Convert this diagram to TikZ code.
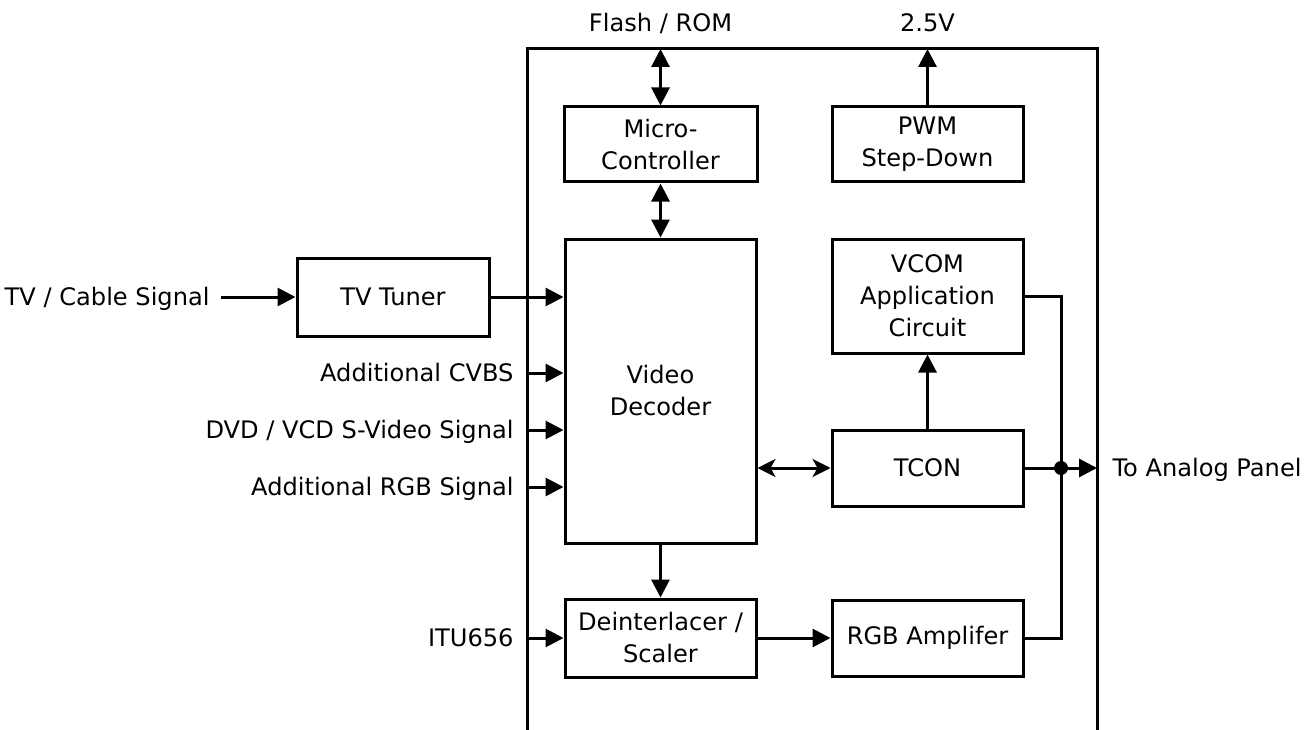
\documentclass[tikz,border=0pt]{standalone}
\usepackage{fontspec}
\setmainfont{DejaVu Sans}
\usetikzlibrary{arrows.meta}
\begin{document}
\begin{tikzpicture}[x=1pt,y=-1pt,
  line width=3pt,
  every node/.style={font=\fontsize{24.1}{32}\selectfont, inner sep=0pt},
  blk/.style={draw, line width=3pt, minimum width=191pt, align=center},
  lbl/.style={anchor=base east},
  tipa/.style={-{Triangle[length=18pt,width=18pt]}},
  tipb/.style={{Triangle[length=18pt,width=18pt]}-{Triangle[length=18pt,width=18pt]}},
  tipc/.style={{Stealth[length=18pt,width=18pt,inset=5pt]}-{Stealth[length=18pt,width=18pt,inset=5pt]}}
]
\useasboundingbox (0,0) rectangle (1316,730);

% outer open frame
\draw (527,730) -- (527,49) -- (1097,49) -- (1097,730);

% blocks
\node[blk, minimum width=193pt, minimum height=75pt] (micro) at (660.5,144.5) {Micro-\\Controller};
\node[blk, minimum height=75pt] (pwm) at (927.5,144.5) {PWM\\Step-Down};
\node[blk, minimum height=304pt] (vd) at (660.5,391) {Video\\Decoder};
\node[blk, minimum height=114pt] (vcom) at (927.5,296) {VCOM\\Application\\Circuit};
\node[blk, minimum height=76pt] (tcon) at (927.5,468) {TCON};
\node[blk, minimum height=78pt] (deint) at (660.5,638) {Deinterlacer /\\Scaler};
\node[blk, minimum height=76pt] (rgb) at (927.5,638) {RGB Amplifer};
\node[blk, minimum width=192pt, minimum height=78pt] (tuner) at (393,297) {TV Tuner};

% labels
\node[anchor=base] (flash) at (660.5,32) {Flash / ROM};
\node[anchor=base] (volt) at (927.5,32) {2.5V};
\node[lbl] (tvl) at (211,305.5) {TV / Cable Signal};
\node[lbl] (cvbs) at (515,381.5) {Additional CVBS};
\node[lbl] (dvd) at (515,438.5) {DVD / VCD S-Video Signal};
\node[lbl] (rgbs) at (515,495.5) {Additional RGB Signal};
\node[lbl] (itu) at (515,646.5) {ITU656};
\node[anchor=base west] (panel) at (1111,476.5) {To Analog Panel};

% coordinates
\coordinate (ftop) at (660.5,49);
\coordinate (vtop) at (927.5,49);
\coordinate (tvs) at (221,297);
\coordinate (in1) at (527,373);
\coordinate (in2) at (527,430);
\coordinate (in3) at (527,487);
\coordinate (in4) at (527,638);
\coordinate (jn) at (1061,468);
\coordinate (outr) at (1097,468);

% connectors
\draw[tipb] (micro.north) -- (ftop);
\draw[tipb] (micro.south) -- (vd.north -| micro.south);
\draw[tipa] (pwm.north) -- (vtop);
\draw[tipa] (tvs) -- (tuner.west);
\draw[tipa] (tuner.east) -- (tuner.east -| vd.west);
\draw[tipa] (in1) -- (in1 -| vd.west);
\draw[tipa] (in2) -- (in2 -| vd.west);
\draw[tipa] (in3) -- (in3 -| vd.west);
\draw[tipa] (in4) -- (deint.west);
\draw[tipa] (vd.south) -- (deint.north);
\draw[tipa] (deint.east) -- (rgb.west);
\draw[tipc] (tcon.west -| vd.east) -- (tcon.west);
\draw[tipa] (tcon.north) -- (vcom.south);
\draw (tcon.east) -- (jn);
\draw[tipa] (jn) -- (outr);
\draw (vcom.east) -- (vcom.east -| jn) -- (rgb.east -| jn) -- (rgb.east);
\fill (jn) circle (7pt);
\end{tikzpicture}
\end{document}
